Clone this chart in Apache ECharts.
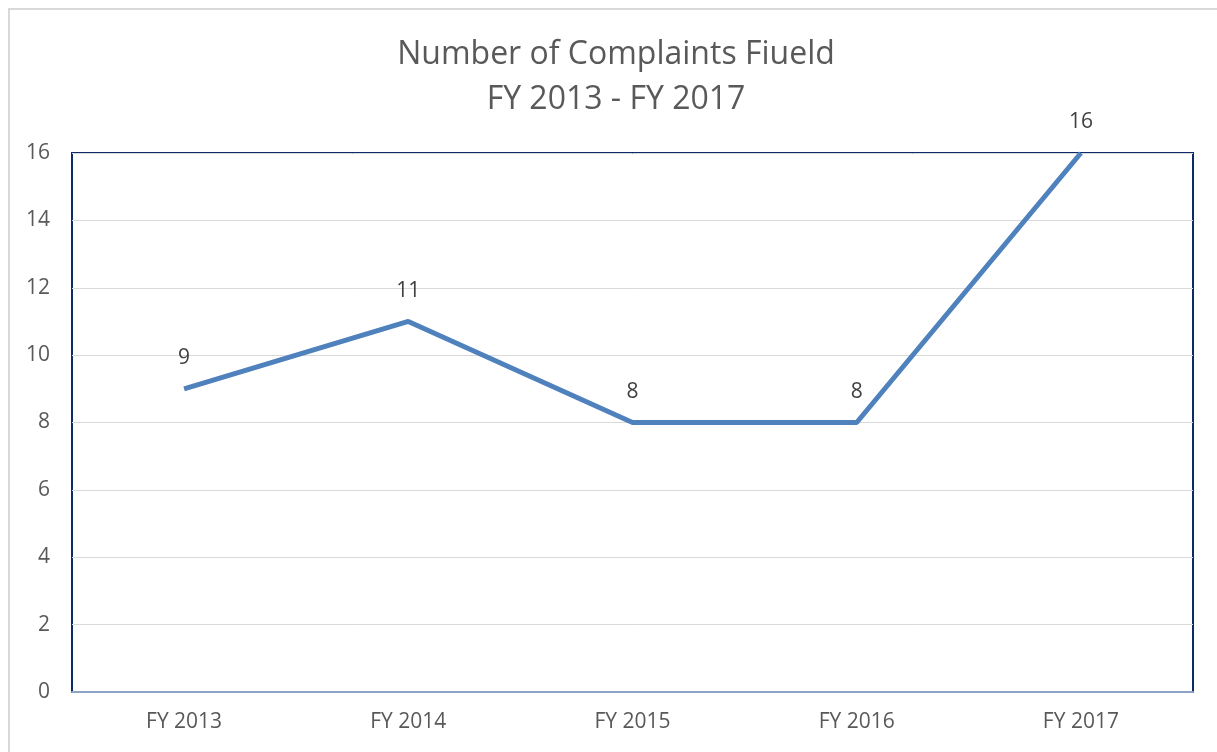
<!DOCTYPE html>
<html>
<head>
<meta charset="utf-8">
<script src="https://cdn.jsdelivr.net/npm/echarts@6/dist/echarts.min.js"></script>
<style>
  html, body { margin: 0; padding: 0; background: #fff; }
  #chart { width: 1217px; height: 752px; }
</style>
</head>
<body>
<div id="chart"></div>
<script>
// data
const years = ['FY 2013', 'FY 2014', 'FY 2015', 'FY 2016', 'FY 2017'];
const complaints = [9, 11, 8, 8, 16];
const titleLines = ['Number of Complaints Fiueld', 'FY 2013 - FY 2017'];

const fontFam = '"Open Sans", "Noto Sans", sans-serif';

echarts.init(document.getElementById('chart')).setOption({
    animation: false,
    backgroundColor: '#fff',
    title: {
        text: titleLines.join('\n'),
        left: 611,
        textAlign: 'center',
        top: 27,
        textStyle: {
            fontFamily: fontFam,
            fontSize: 32,
            fontWeight: 'normal',
            color: '#595959',
            lineHeight: 45
        }
    },
    graphic: [{
        type: 'rect',
        shape: { x: 9, y: 9, width: 1300, height: 900 },
        style: { fill: 'none', stroke: '#d9d9d9', lineWidth: 2 },
        silent: true
    }],
    grid: {
        left: 72,
        right: 24,
        top: 153,
        bottom: 60,
        show: true,
        borderColor: '#0d2a6b',
        borderWidth: 2,
        backgroundColor: 'transparent'
    },
    xAxis: {
        type: 'category',
        data: years,
        boundaryGap: true,
        axisLine: { show: true, lineStyle: { color: '#8ea3c8', width: 2 } },
        axisTick: { show: false },
        axisLabel: {
            fontFamily: fontFam,
            fontSize: 21,
            color: '#595959',
            margin: 20
        }
    },
    yAxis: {
        type: 'value',
        min: 0,
        max: 16,
        interval: 2,
        axisLine: { show: false },
        axisTick: { show: false },
        splitLine: { lineStyle: { color: '#d9d9d9', width: 1 } },
        axisLabel: {
            fontFamily: fontFam,
            fontSize: 21,
            color: '#595959',
            margin: 22
        }
    },
    series: [{
        type: 'line',
        data: complaints,
        symbol: 'circle',
        symbolSize: 0,
        lineStyle: { color: '#4f81bd', width: 5 },
        itemStyle: { color: '#4f81bd' },
        label: {
            show: true,
            position: 'top',
            distance: 20,
            fontFamily: fontFam,
            fontSize: 21,
            color: '#404040'
        }
    }]
});
</script>
</body>
</html>
